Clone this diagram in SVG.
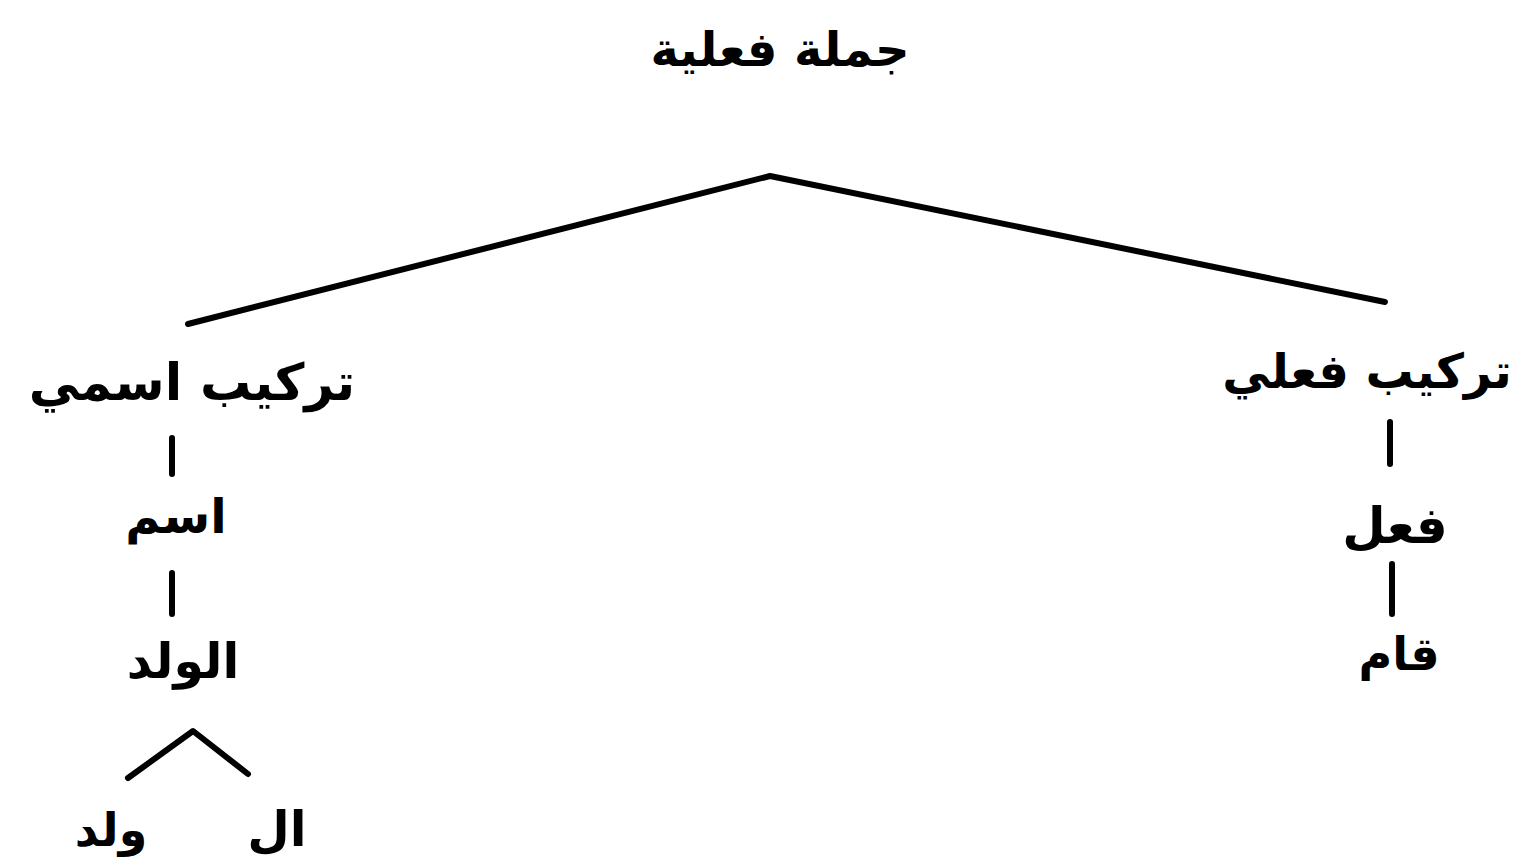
<svg xmlns="http://www.w3.org/2000/svg" width="1514" height="867" viewBox="0 0 1514 867">
<style>
text{font-family:"DejaVu Sans",sans-serif;font-weight:bold;fill:#000;text-anchor:middle}
.l{stroke:#000;stroke-width:6;fill:none;stroke-linecap:round;stroke-linejoin:round}
</style>
<rect width="1514" height="867" fill="#fff"/>
<g id="connectors">
<polyline class="l" points="188,324 770,176 1385,302"/>
<line class="l" x1="172" y1="438" x2="172" y2="474"/>
<line class="l" x1="172" y1="573" x2="172" y2="614"/>
<polyline class="l" points="128,778 193,731 248,774"/>
<line class="l" x1="1390" y1="422" x2="1390" y2="464"/>
<line class="l" x1="1392" y1="564" x2="1392" y2="614"/>
</g>
<g id="n-root"><text x="780" y="66" font-size="48">جملة فعلية</text></g>
<g id="n-ism"><text x="192" y="400" font-size="51">تركيب اسمي</text></g>
<g id="n-fil"><text x="1367" y="388" font-size="48">تركيب فعلي</text></g>
<g id="n-ism2"><text x="176" y="533" font-size="48">اسم</text></g>
<g id="n-walad"><text x="183" y="678" font-size="49">الولد</text></g>
<g id="n-al"><text x="277" y="846" font-size="49">ال</text></g>
<g id="n-wld"><text x="111" y="846" font-size="46">ولد</text></g>
<g id="n-fil2"><text x="1395" y="543" font-size="50">فعل</text></g>
<g id="n-qam"><text x="1399" y="670" font-size="46">قام</text></g>
</svg>
